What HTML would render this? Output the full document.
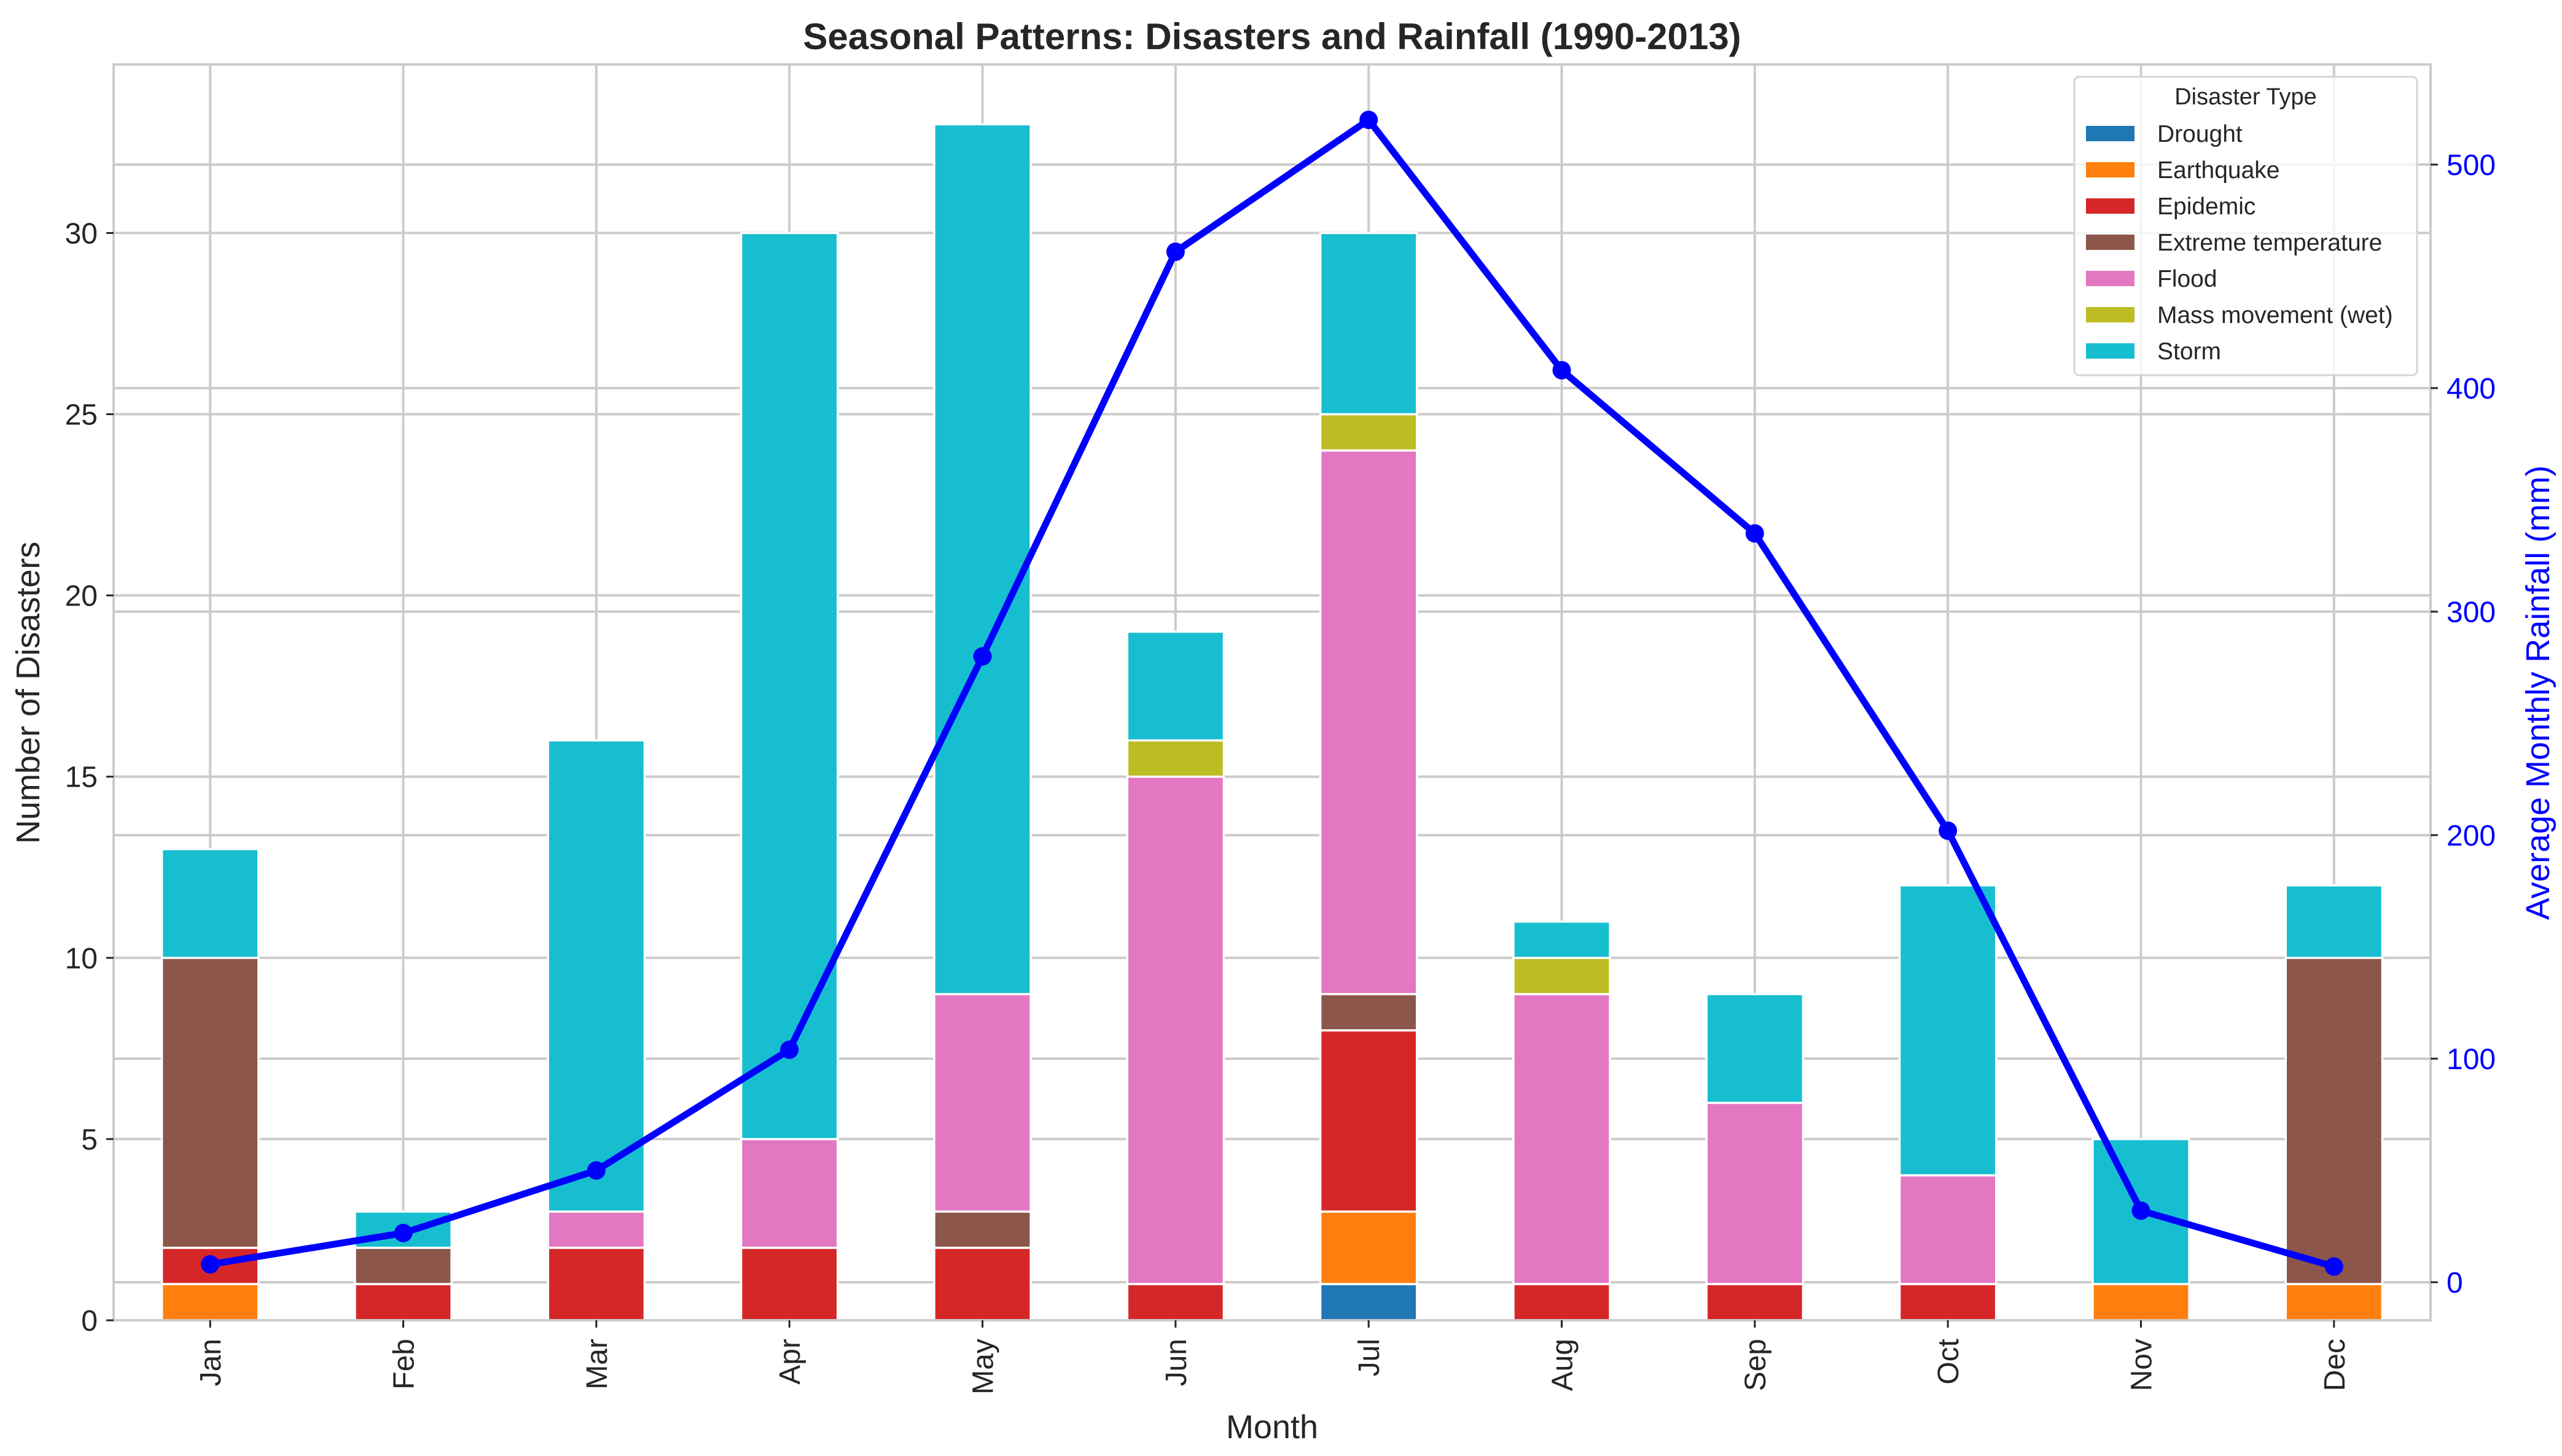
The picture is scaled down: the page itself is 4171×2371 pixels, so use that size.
<!DOCTYPE html>
<html><head><meta charset="utf-8"><style>
html,body{margin:0;padding:0;background:#fff;}
svg{display:block;font-family:"Liberation Sans",Arial,sans-serif;}
</style></head><body>
<svg id="chart" width="4171" height="2371" viewBox="0 0 4171 2371" xmlns="http://www.w3.org/2000/svg">
<rect width="4171" height="2371" fill="#fff"/>
<g id="grid"></g>
<g id="bars"></g>
<g id="line"></g>
<g id="axes"></g>
<g id="legend"></g>
</svg>
<script>
const months = ["Jan","Feb","Mar","Apr","May","Jun","Jul","Aug","Sep","Oct","Nov","Dec"];
const types = ["Drought","Earthquake","Epidemic","Extreme temperature","Flood","Mass movement (wet)","Storm"];
const colors = ["#1f77b4","#ff7f0e","#d62728","#8c564b","#e377c2","#bcbd22","#17becf"];
const drought    = [0,0,0,0,0,0,1,0,0,0,0,0];
const earthquake = [1,0,0,0,0,0,2,0,0,0,1,1];
const epidemic   = [1,1,2,2,2,1,5,1,1,1,0,0];
const extremeTemp= [8,1,0,0,1,0,1,0,0,0,0,9];
const flood      = [0,0,1,3,6,14,15,8,5,3,0,0];
const massWet    = [0,0,0,0,0,1,1,1,0,0,0,0];
const storm      = [3,1,13,25,24,3,5,1,3,8,4,2];
const rainfall   = [8,22,50,104,280,461,520,408,335,202,32,7];
const leftTicks  = [0,5,10,15,20,25,30];
const rightTicks = [0,100,200,300,400,500];

const series=[drought,earthquake,epidemic,extremeTemp,flood,massWet,storm];
const L=185,R=3957,T=105,B=2150;
const step=(R-L)/12, bw=step*0.5;
const xC=i=>L+step*(i+0.5);
const yL=v=>B-v*(B-T)/34.65;
const yR=v=>2088-v*3.64;
const NS="http://www.w3.org/2000/svg";
function mk(tag,attrs,parent,txt){const e=document.createElementNS(NS,tag);for(const k in attrs)e.setAttribute(k,attrs[k]);if(txt!==undefined)e.textContent=txt;parent.appendChild(e);return e;}
const G=id=>document.getElementById(id);

const grid=G('grid');
months.forEach((m,i)=>{const l=mk('line',{x1:xC(i),x2:xC(i),y1:T,y2:B,stroke:'#cccccc','stroke-width':4},grid);

});
leftTicks.forEach(v=>{const l=mk('line',{x1:L,x2:R,y1:yL(v),y2:yL(v),stroke:'#cccccc','stroke-width':4},grid);

});
rightTicks.forEach(v=>{const l=mk('line',{x1:L,x2:R,y1:yR(v),y2:yR(v),stroke:'#cccccc','stroke-width':4},grid);

});

const bars=G('bars');
months.forEach((m,i)=>{let base=0;
series.forEach((s,k)=>{const v=s[i];if(v>0){
const r=mk('rect',{x:xC(i)-bw/2,y:yL(base+v),width:bw,height:yL(base)-yL(base+v),fill:colors[k],stroke:'#fff','stroke-width':3.5},bars);

}
base+=v;});});

const lg=G('line');
const pts=rainfall.map((v,i)=>xC(i)+','+yR(v)).join(' ');
const pl=mk('polyline',{points:pts,fill:'none',stroke:'#0000ff','stroke-width':11,'stroke-linejoin':'round'},lg);


rainfall.forEach((v,i)=>{const c=mk('circle',{cx:xC(i),cy:yR(v),r:15,fill:'#0000ff'},lg);

});

const ax=G('axes');
const fr=mk('rect',{x:L,y:T,width:R-L,height:B-T,fill:'none',stroke:'#cccccc','stroke-width':4},ax);


leftTicks.forEach(v=>{mk('line',{x1:L-12,x2:L,y1:yL(v),y2:yL(v),stroke:'#262626','stroke-width':3},ax);
const t=mk('text',{x:L-26,y:yL(v)+17,'text-anchor':'end','font-size':48,fill:'#262626'},ax,String(v));

});
rightTicks.forEach(v=>{mk('line',{x1:R,x2:R+12,y1:yR(v),y2:yR(v),stroke:'#262626','stroke-width':3},ax);
const t=mk('text',{x:R+26,y:yR(v)+17,'font-size':48,fill:'#0000ff'},ax,String(v));

});
months.forEach((m,i)=>{mk('line',{x1:xC(i),x2:xC(i),y1:B,y2:B+12,stroke:'#262626','stroke-width':3},ax);
const t=mk('text',{x:0,y:0,'text-anchor':'end','font-size':48,fill:'#262626',transform:`translate(${xC(i)+17},${B+30}) rotate(-90)`},ax,m);

});

const t1=mk('text',{x:2071,y:80,'text-anchor':'middle','font-size':60,'font-weight':'bold',fill:'#262626'},ax,'Seasonal Patterns: Disasters and Rainfall (1990-2013)');


const t2=mk('text',{x:2071,y:2342,'text-anchor':'middle','font-size':54,fill:'#262626'},ax,'Month');


const t3=mk('text',{x:0,y:0,'text-anchor':'middle','font-size':54,fill:'#262626',transform:'translate(64,1128) rotate(-90)'},ax,'Number of Disasters');


const t4=mk('text',{x:0,y:0,'text-anchor':'middle','font-size':54,fill:'#0000ff',transform:'translate(4150,1128) rotate(-90)'},ax,'Average Monthly Rainfall (mm)');



const lgd=G('legend');
const box=mk('rect',{x:3377,y:125,width:558,height:486,rx:8,fill:'#ffffff','fill-opacity':0.8,stroke:'#d5d5d5','stroke-width':3},lgd);


const lt=mk('text',{x:3656,y:170,'text-anchor':'middle','font-size':38,fill:'#262626'},lgd,'Disaster Type');


types.forEach((t,k)=>{const cy=217+k*59;
const g=mk('g',{},lgd);


const r=mk('rect',{x:3396,y:cy-12,width:79,height:25,fill:colors[k]},g);


const e=mk('text',{x:3512,y:cy+14,'font-size':39,fill:'#262626'},g,t);

});
</script>
</body></html>
